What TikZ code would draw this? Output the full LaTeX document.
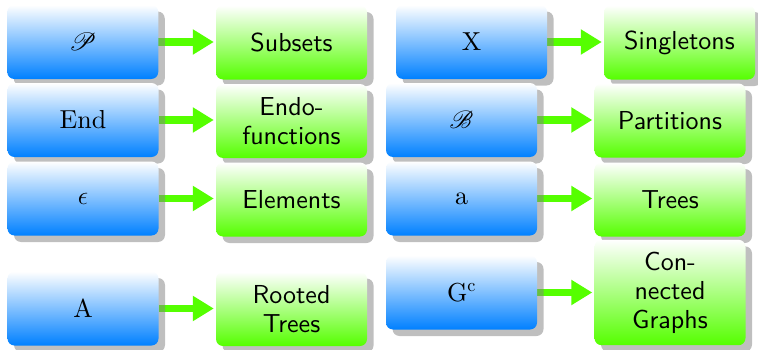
\RequirePackage{fix-cm}
\documentclass[tikz,border=0pt]{standalone}
\usepackage{mathrsfs}
\usepackage{fontspec}
\setmainfont{lmroman10-regular.otf}
\setsansfont{lmsans10-regular.otf}
\usetikzlibrary{shadows,arrows.meta,backgrounds}

\definecolor{boxblue}{RGB}{0,128,255}
\definecolor{boxgreen}{RGB}{85,255,0}
\definecolor{arrowgreen}{RGB}{85,255,0}

\tikzset{
  basebox/.style={
    rounded corners=7pt,
    minimum width=151pt, minimum height=74pt,
    inner xsep=8pt, inner ysep=12pt,
    align=center,
    font=\fontsize{26}{29}\selectfont,
    drop shadow={shadow xshift=6.5pt, shadow yshift=-6.5pt}
  },
  speciesbox/.style={basebox, top color=white, bottom color=boxblue},
  namebox/.style={basebox, top color=white, bottom color=boxgreen,
    font=\fontsize{26}{29}\selectfont\sffamily},
  conn/.style={line width=7.5pt, draw=arrowgreen,
    -{Triangle[length=21pt,width=24pt]}, shorten >=2pt}
}

\begin{document}
\begin{tikzpicture}[x=1pt,y=1pt]
\useasboundingbox (0,0) rectangle (758,349);

% left column
\node[speciesbox] (P)  at (82.75,307) {$\mathscr{P}$};
\node[namebox]    (Ps) at (291.5,306.5) {Subsets};
\node[speciesbox] (E)  at (83,229) {End};
\node[namebox]    (Es) at (291.5,228) {Endo-\\functions};
\node[speciesbox] (e)  at (83,150.5) {$\epsilon$};
\node[namebox]    (es) at (291.5,149.5) {Elements};
\node[speciesbox] (A)  at (83,40.5) {A};
\node[namebox]    (As) at (291.5,40) {Rooted\\Trees};

% right column
\node[speciesbox] (X)  at (471.5,307) {X};
\node[namebox]    (Xs) at (679.5,306.5) {Singletons};
\node[speciesbox] (B)  at (461.5,229) {$\mathscr{B}$};
\node[namebox]    (Bs) at (670,228.5) {Partitions};
\node[speciesbox] (a)  at (461.5,150.5) {a};
\node[namebox]    (as) at (670,149.5) {Trees};
\node[speciesbox] (G)  at (461.5,56.5) {G$^{\mathrm{c}}$};
\node[namebox]    (Gs) at (670,56.5) {Con-\\nected\\Graphs};

% arrows sit behind the boxes and their shadows
\begin{pgfonlayer}{background}
  \draw[conn] (P.east) -- (Ps.west |- P.east);
  \draw[conn] (E.east) -- (Es.west |- E.east);
  \draw[conn] (e.east) -- (es.west |- e.east);
  \draw[conn] (A.east) -- (As.west |- A.east);
  \draw[conn] (X.east) -- (Xs.west |- X.east);
  \draw[conn] (B.east) -- (Bs.west |- B.east);
  \draw[conn] (a.east) -- (as.west |- a.east);
  \draw[conn] (G.east) -- (Gs.west |- G.east);
\end{pgfonlayer}
\end{tikzpicture}
\end{document}
